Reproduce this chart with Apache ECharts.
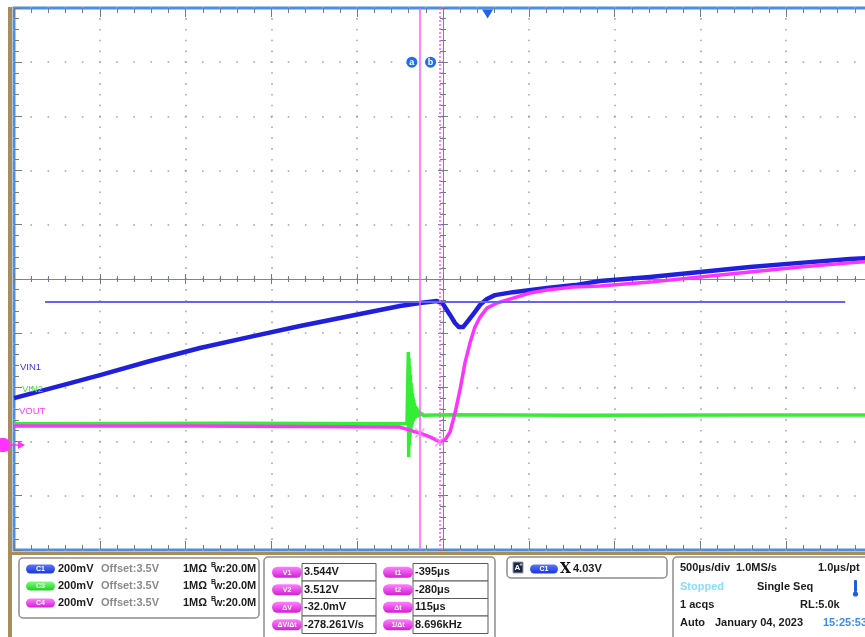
<!DOCTYPE html>
<html>
<head>
<meta charset="utf-8">
<script src="https://cdn.jsdelivr.net/npm/echarts@6/dist/echarts.min.js"></script>
<style>
  html, body { margin: 0; padding: 0; background: #ffffff; }
  #main { width: 865px; height: 637px; }
</style>
</head>
<body>
<div id="main"></div>
<script>
// ---- Acquisition scales ----------------------------------------------------
// Horizontal: 500 µs/div over 10 divisions, t = 0 at the trigger point.
const TIME_DIV_US = 500;
const TIME_MIN_US = -2760;
const TIME_MAX_US = 2240;
// Vertical: 200 mV/div over 10 divisions, all channels share offset 3.5 V.
const VOLT_DIV = 0.2;
const VOLT_MIN = 3.1125;
const VOLT_MAX = 5.1125;

// ---- Traces (time in µs, level in V) ---------------------------------------
const VIN1_T = [-2760, -2492, -2259, -1967, -1676, -1385, -1093, -802, -511, -394, -295, -260,
  -219, -190, -167, -143, -114, -79, -44, -4, 43, 148, 346, 509, 655, 946, 1238, 1529, 1820, 2112, 2240];
const VIN1_V = [3.673, 3.718, 3.758, 3.810, 3.858, 3.899, 3.939, 3.976, 4.013, 4.024, 4.031, 4.020,
  3.980, 3.950, 3.935, 3.935, 3.958, 3.987, 4.017, 4.039, 4.053, 4.064, 4.079, 4.090, 4.105, 4.120, 4.138, 4.157, 4.172, 4.186, 4.190];

const VIN2_T = [-2760, -1500, -470, -464, -462, -460, -458, -456, -454, -452, -450, -448, -446, -444,
  -442, -440, -438, -436, -434, -432, -430, -428, -426, -424, -422, -420, -417, -414, -411, -408,
  -404, -400, -395, -390, -384, -378, -200, 500, 1500, 2240];
const VIN2_V = [3.578, 3.580, 3.578, 3.578, 3.843, 3.456, 3.820, 3.500, 3.790, 3.530, 3.760, 3.550, 3.730, 3.565,
  3.710, 3.575, 3.690, 3.585, 3.675, 3.590, 3.665, 3.595, 3.655, 3.598, 3.645, 3.600, 3.640, 3.602, 3.635, 3.604,
  3.628, 3.606, 3.622, 3.608, 3.618, 3.610, 3.612, 3.610, 3.611, 3.611];

const VOUT_T = [-2760, -1676, -511, -435, -395, -336, -280, -248, -219, -190, -161, -132, -103, -74,
  -44, -4, 55, 148, 247, 346, 498, 655, 946, 1238, 1529, 1820, 2112, 2240];
const VOUT_V = [3.570, 3.570, 3.566, 3.551, 3.544, 3.530, 3.512, 3.519, 3.548, 3.618, 3.703, 3.803, 3.876, 3.935,
  3.972, 4.005, 4.024, 4.042, 4.061, 4.072, 4.083, 4.087, 4.101, 4.120, 4.138, 4.157, 4.172, 4.178];

// ---- Cursors and trigger ---------------------------------------------------
const CURSOR_T1 = -395, CURSOR_T2 = -280;    // µs
const CURSOR_V1 = 3.544, CURSOR_V2 = 3.512;  // V on VOUT
const TRIG_LEVEL = 4.03;                     // V on C1
const TRIG_LINE_FROM = -2579, TRIG_LINE_TO = 2084;

// ---- Read-out panel texts --------------------------------------------------
const CHANNEL_TAGS = ['C1', 'C3', 'C4'];
const CHANNEL_TAG_COLORS = [['#5b78ff', '#1b34d8'], ['#7dff7d', '#1fcf1f'], ['#ff7dff', '#d81fd8']];
const CHANNEL_NAMES = ['VIN1', 'VIN2', 'VOUT'];
const CHANNEL_NAME_COLORS = ['#3a3ae6', '#3fe33f', '#ff3dff'];
const CURSOR_LEFT_TAGS = ['V1', 'V2', 'ΔV', 'ΔV/Δt'];
const CURSOR_LEFT_VALUES = ['3.544V', '3.512V', '-32.0mV', '-278.261V/s'];
const CURSOR_RIGHT_TAGS = ['t1', 't2', 'Δt', '1/Δt'];
const CURSOR_RIGHT_VALUES = ['-395μs', '-280μs', '115μs', '8.696kHz'];

const pairs = (ts, vs) => ts.map((t, i) => [t, vs[i]]);

const FONT = '"Liberation Sans", Arial, sans-serif';
const TICK_COLOR = '#6f7b92';
const DOT_COLOR = '#9ba4b8';

function txt(x, y, s, fill, font, align) {
  return {
    type: 'text', z: 60,
    style: { x: x, y: y, text: s, fill: fill || '#1c1c1c', font: font || ('bold 11px ' + FONT),
             align: align || 'left', verticalAlign: 'middle' }
  };
}
function frame(x, y, w, h) {
  return { type: 'rect', z: 40, shape: { x: x, y: y, width: w, height: h, r: 4 },
           style: { fill: '#ffffff', stroke: '#8d8d8d', lineWidth: 1.5 } };
}
function cell(x, y, w, h) {
  return { type: 'rect', z: 45, shape: { x: x, y: y, width: w, height: h },
           style: { fill: '#ffffff', stroke: '#5a5a5a', lineWidth: 1 } };
}
function pill(x, yc, w, h, cols, label) {
  return [
    { type: 'rect', z: 50, shape: { x: x, y: yc - h / 2, width: w, height: h, r: h / 2 },
      style: { fill: { type: 'linear', x: 0, y: 0, x2: 0, y2: 1,
               colorStops: [{ offset: 0, color: cols[0] }, { offset: 1, color: cols[1] }] } } },
    txt(x + w / 2, yc + 0.5, label, '#ffffff', 'bold 7px ' + FONT, 'center')
  ];
}

// ---- Graphic overlay: frame strips, channel markers and read-out panel -----
const graphics = [];
graphics.push({ type: 'rect', z: 30, shape: { x: 8, y: 7, width: 4, height: 630 }, style: { fill: '#a88c5c' } });
graphics.push({ type: 'rect', z: 30, shape: { x: 12, y: 552, width: 853, height: 3 }, style: { fill: '#a88c5c' } });

// channel names next to the traces
graphics.push(txt(20, 367, CHANNEL_NAMES[0], CHANNEL_NAME_COLORS[0], '9.5px ' + FONT));
graphics.push(txt(22, 389, CHANNEL_NAMES[1], CHANNEL_NAME_COLORS[1], '9.5px ' + FONT));
graphics.push(txt(19, 411, CHANNEL_NAMES[2], CHANNEL_NAME_COLORS[2], '9.5px ' + FONT));

// channel offset marker on the left edge
graphics.push({ type: 'rect', z: 55, shape: { x: -4, y: 438, width: 14, height: 14, r: 6 }, style: { fill: '#ff33ff' } });
graphics.push({ type: 'line', z: 55, shape: { x1: 10, y1: 445, x2: 19, y2: 445 }, style: { stroke: '#ff33ff', lineWidth: 1.5 } });
graphics.push({ type: 'polygon', z: 55, shape: { points: [[18, 441], [25, 445], [18, 449]] }, style: { fill: '#ff33ff' } });

// channel settings box
graphics.push(frame(19, 558, 240, 60));
[569, 586, 603].forEach((yc, i) => {
  graphics.push(...pill(26, yc, 29, 9, CHANNEL_TAG_COLORS[i], CHANNEL_TAGS[i]));
  graphics.push(txt(58, yc, '200mV'));
  graphics.push(txt(101, yc, 'Offset:3.5V', '#8a8a8a'));
  graphics.push(txt(183, yc, '1MΩ'));
  graphics.push(txt(211, yc - 4, 'B', '#1c1c1c', 'bold 7px ' + FONT));
  graphics.push(txt(214, yc + 1, 'W', '#1c1c1c', 'bold 9px ' + FONT));
  graphics.push(txt(222, yc, ':20.0M'));
});

// cursor read-out box
graphics.push(frame(264, 557, 231, 90));
[563.5, 581, 598.5, 616].forEach((y0, i) => {
  const yc = y0 + 8.75;
  graphics.push(cell(302, y0, 74, 17.5));
  graphics.push(cell(413, y0, 75, 17.5));
  graphics.push(...pill(272, yc, 30, 11, ['#ff80ff', '#d21fd2'], CURSOR_LEFT_TAGS[i]));
  graphics.push(...pill(383, yc, 30, 11, ['#ff80ff', '#d21fd2'], CURSOR_RIGHT_TAGS[i]));
  graphics.push(txt(304, yc, CURSOR_LEFT_VALUES[i]));
  graphics.push(txt(415, yc, CURSOR_RIGHT_VALUES[i]));
});

// trigger box
graphics.push(frame(507, 557, 160, 21));
graphics.push({ type: 'rect', z: 50, shape: { x: 513, y: 562, width: 10, height: 11 }, style: { fill: '#1b2644', stroke: '#9aa0b0', lineWidth: 1 } });
graphics.push(txt(517.5, 568, 'A', '#ffffff', 'bold 8px ' + FONT, 'center'));
graphics.push(txt(521, 564.5, '+', '#ffffff', 'bold 5px ' + FONT, 'center'));
graphics.push(...pill(530, 569, 28, 9, CHANNEL_TAG_COLORS[0], 'C1'));
graphics.push(txt(560, 569, 'X', '#111111', 'bold 14px "DejaVu Serif", serif'));
graphics.push(txt(573, 569, '4.03V'));

// timebase / acquisition box
graphics.push(frame(673, 557, 210, 90));
graphics.push(txt(680, 568, '500μs/div'));
graphics.push(txt(736, 568, '1.0MS/s'));
graphics.push(txt(818, 568, '1.0μs/pt'));
graphics.push(txt(680, 587, 'Stopped', '#86ddff'));
graphics.push(txt(757, 587, 'Single Seq'));
graphics.push({ type: 'rect', z: 55, shape: { x: 854, y: 580, width: 3, height: 12, r: 1 }, style: { fill: '#1f5fdd' } });
graphics.push({ type: 'circle', z: 55, shape: { cx: 855.5, cy: 594, r: 2.6 }, style: { fill: '#1f5fdd' } });
graphics.push(txt(680, 605, '1 acqs'));
graphics.push(txt(800, 605, 'RL:5.0k'));
graphics.push(txt(680, 623, 'Auto'));
graphics.push(txt(715, 623, 'January 04, 2023'));
graphics.push(txt(823, 623, '15:25:53', '#3b8cf0'));

// ---- Axes: border ticks, centre crosshair and dotted graticule -------------
function timeAxis(extra) {
  return Object.assign({
    type: 'value', min: TIME_MIN_US, max: TIME_MAX_US, interval: TIME_DIV_US,
    axisLabel: { show: false }, splitLine: { show: false },
    axisLine: { show: false, onZero: false },
    axisTick: { show: true, inside: true, length: 9, lineStyle: { color: TICK_COLOR, width: 1 } },
    minorTick: { show: true, splitNumber: 5, length: 5, lineStyle: { color: TICK_COLOR, width: 1 } }
  }, extra);
}
function voltAxis(extra) {
  return Object.assign({
    type: 'value', min: VOLT_MIN, max: VOLT_MAX, interval: VOLT_DIV,
    axisLabel: { show: false }, splitLine: { show: false },
    axisLine: { show: false, onZero: false },
    axisTick: { show: true, inside: true, length: 8, lineStyle: { color: TICK_COLOR, width: 1 } },
    minorTick: { show: true, splitNumber: 5, length: 5, lineStyle: { color: TICK_COLOR, width: 1 } }
  }, extra);
}
const centreTicks = (inside) => ({
  axisTick: { show: true, inside: inside, length: 5, lineStyle: { color: TICK_COLOR, width: 1 } },
  minorTick: { show: true, splitNumber: 5, length: 3, lineStyle: { color: TICK_COLOR, width: 1 } }
});

const option = {
  backgroundColor: '#ffffff',
  animation: false,
  grid: {
    left: 14, top: 8, width: 858, height: 542,
    containLabel: false, outerBoundsMode: 'none',
    show: true, backgroundColor: '#ffffff', borderColor: '#4a8fe2', borderWidth: 3
  },
  xAxis: [
    timeAxis({ position: 'bottom',
      splitLine: { show: true, lineStyle: { color: DOT_COLOR, width: 1.5, type: [1.6, 9.24], dashOffset: 0.8 } } }),
    timeAxis({ position: 'top' }),
    timeAxis(Object.assign({ position: 'bottom', offset: -271,
      axisLine: { show: true, onZero: false, lineStyle: { color: '#7d8598', width: 1 } } }, centreTicks(true))),
    timeAxis(Object.assign({ position: 'bottom', offset: -271 }, centreTicks(false)))
  ],
  yAxis: [
    voltAxis({ position: 'left',
      splitLine: { show: true, lineStyle: { color: DOT_COLOR, width: 1.5, type: [1.6, 15.56], dashOffset: 0.8 } } }),
    voltAxis(Object.assign({ position: 'left', offset: -429,
      axisLine: { show: true, onZero: false, lineStyle: { color: '#7d8598', width: 1 } } }, centreTicks(true))),
    voltAxis(Object.assign({ position: 'left', offset: -429 }, centreTicks(false)))
  ],
  series: [
    {
      name: 'VIN2', type: 'line', xAxisIndex: 0, yAxisIndex: 0,
      data: pairs(VIN2_T, VIN2_V), showSymbol: false, symbol: 'none',
      lineStyle: { color: '#33ee33', width: 3.5 }
    },
    {
      name: 'VIN1', type: 'line', xAxisIndex: 0, yAxisIndex: 0,
      data: pairs(VIN1_T, VIN1_V), showSymbol: false, symbol: 'none',
      lineStyle: { color: '#2020dc', width: 4.5, join: 'round' },
      markLine: {
        silent: true, symbol: ['none', 'none'], label: { show: false },
        lineStyle: { color: '#6464f2', width: 2, type: 'solid' },
        data: [[{ coord: [TRIG_LINE_FROM, TRIG_LEVEL] }, { coord: [TRIG_LINE_TO, TRIG_LEVEL] }]]
      },
      markPoint: {
        silent: true,
        data: [{ coord: [0, VOLT_MAX], symbol: 'triangle', symbolRotate: 180, symbolSize: [11, 9],
                 symbolOffset: [0, 6], itemStyle: { color: '#2463e6' }, label: { show: false } }]
      }
    },
    {
      name: 'VOUT', type: 'line', xAxisIndex: 0, yAxisIndex: 0,
      data: pairs(VOUT_T, VOUT_V), showSymbol: false, symbol: 'none',
      lineStyle: { color: '#ff33ff', width: 3.5, join: 'round' },
      markLine: {
        silent: true, symbol: ['none', 'none'], label: { show: false },
        data: [
          { xAxis: CURSOR_T1, lineStyle: { color: '#ff5cff', width: 1.5, type: 'solid' } },
          { xAxis: CURSOR_T2, lineStyle: { color: '#ff5cff', width: 1.5, type: [2, 2] } }
        ]
      },
      markPoint: {
        silent: true, symbol: 'circle', symbolSize: 11,
        itemStyle: { color: '#1f6fe8' },
        label: { show: true, position: 'inside', color: '#ffffff', fontSize: 9, fontWeight: 'bold', fontFamily: 'Liberation Sans' },
        data: [
          { coord: [CURSOR_T1, VOLT_MAX - VOLT_DIV], symbolOffset: [-8, 0], label: { formatter: 'a' } },
          { coord: [CURSOR_T2, VOLT_MAX - VOLT_DIV], symbolOffset: [-9, 0], label: { formatter: 'b' } }
        ]
      }
    },
    {
      name: 'cursor marks', type: 'scatter', xAxisIndex: 0, yAxisIndex: 0, z: 5,
      data: [[CURSOR_T1, CURSOR_V1], [CURSOR_T2, CURSOR_V2]],
      symbol: 'path://M0,1L1,0L5,4L9,0L10,1L6,5L10,9L9,10L5,6L1,10L0,9L4,5Z',
      symbolSize: 10, itemStyle: { color: '#ff7fff' }, silent: true
    }
  ],
  graphic: graphics
};

const chart = echarts.init(document.getElementById('main'), null, { renderer: 'canvas' });
chart.setOption(option);
</script>
</body>
</html>
